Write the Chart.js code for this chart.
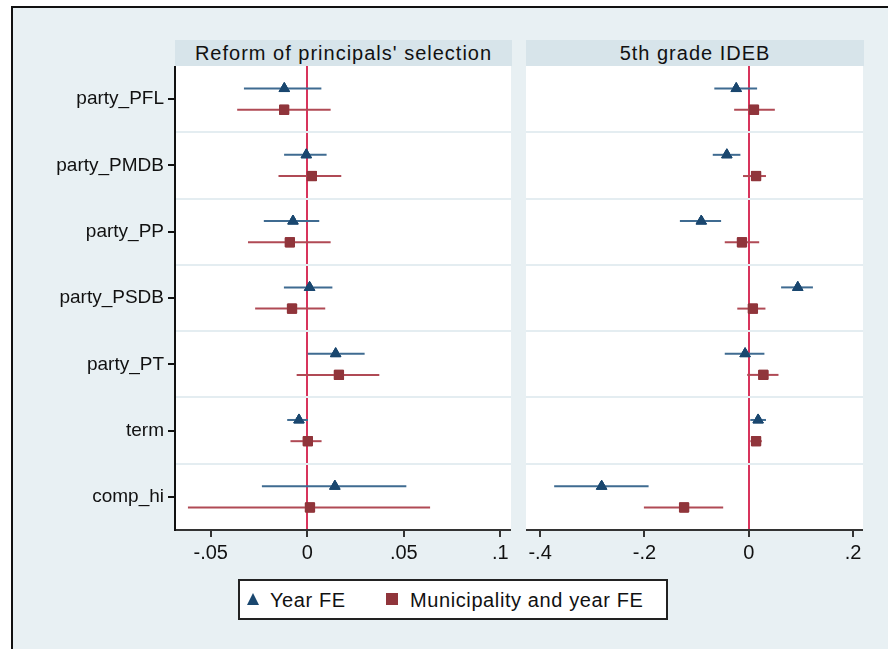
<!DOCTYPE html>
<html lang="en">
<head>
<meta charset="UTF-8">
<title>Coefficient plot</title>
<script src="https://cdn.jsdelivr.net/npm/chart.js"></script>
<style>
  body { margin: 0; background: #fff; font-family: "Liberation Sans", Arial, sans-serif; }
  #frame { position: absolute; left: 11px; top: 6px; width: 890px; height: 660px;
           background: #e8f0f3; border-left: 2px solid #111; border-top: 2px solid #111; }
  .panel-title { position: absolute; top: 40px; height: 26px; line-height: 27px; background: #d7e4ea;
                 text-align: center; font-size: 20px; letter-spacing: 1px; color: #111; }
  canvas { position: absolute; }
  #legend { position: absolute; left: 238px; top: 579px; width: 426px; height: 37px; background: #fff;
            border: 2px solid #222; font-size: 20px; letter-spacing: 0.6px; color: #111; }
  #legend span { position: absolute; top: 8px; }
  .tri { position: absolute; width: 0; height: 0; border-left: 6px solid transparent;
         border-right: 6px solid transparent; border-bottom: 12px solid #1a476f; }
  .sq { position: absolute; width: 12px; height: 12px; background: #90353b; }
</style>
</head>
<body>
<div id="frame"></div>
<div class="panel-title" style="left:175px;width:337px;">Reform of principals' selection</div>
<div class="panel-title" style="left:526px;width:338px;">5th grade IDEB</div>
<canvas id="left-chart" width="500" height="504" style="left:11px;top:66px;"></canvas>
<canvas id="right-chart" width="337" height="504" style="left:526px;top:66px;"></canvas>
<div id="legend">
  <div class="tri" style="left:7px;top:12px;"></div>
  <span style="left:30px;">Year FE</span>
  <div class="sq" style="left:146px;top:12px;"></div>
  <span style="left:170px;">Municipality and year FE</span>
</div>

<script>
const categories = ['party_PFL', 'party_PMDB', 'party_PP', 'party_PSDB', 'party_PT', 'term', 'comp_hi'];

// Reform of principals' selection
const reformYearCoef = [-0.0119, -0.0005, -0.0074, 0.0012, 0.0147, -0.0043, 0.0143];
const reformYearLo   = [-0.0328, -0.0120, -0.0225, -0.0121, 0.0003, -0.0104, -0.0235];
const reformYearHi   = [0.0073, 0.0100, 0.0062, 0.0130, 0.0297, 0.0003, 0.0513];
const reformMuniCoef = [-0.0120, 0.0024, -0.0090, -0.0079, 0.0164, 0.0003, 0.0014];
const reformMuniLo   = [-0.0363, -0.0149, -0.0307, -0.0270, -0.0055, -0.0087, -0.0618];
const reformMuniHi   = [0.0121, 0.0176, 0.0121, 0.0093, 0.0373, 0.0074, 0.0636];
const reformTicks = [-0.05, 0, 0.05, 0.1];
const reformTickLabels = ['-.05', '0', '.05', '.1'];

// 5th grade IDEB
const idebYearCoef = [-0.024, -0.042, -0.091, 0.094, -0.007, 0.018, -0.282];
const idebYearLo   = [-0.066, -0.069, -0.132, 0.062, -0.046, 0.003, -0.373];
const idebYearHi   = [0.016, -0.016, -0.053, 0.123, 0.030, 0.033, -0.192];
const idebMuniCoef = [0.010, 0.014, -0.013, 0.008, 0.028, 0.014, -0.124];
const idebMuniLo   = [-0.028, -0.011, -0.046, -0.022, -0.003, 0.003, -0.201];
const idebMuniHi   = [0.050, 0.033, 0.020, 0.032, 0.057, 0.025, -0.049];
const idebTicks = [-0.4, -0.2, 0, 0.2];
const idebTickLabels = ['-.4', '-.2', '0', '.2'];

const BLUE = '#1a476f', BLUE_LINE = '#3f6b91';
const RED = '#90353b', RED_LINE = '#b04a55';
const ZERO_LINE = '#d8345c';
const ROW_SHIFT = 0.16;

// white plot region
const plotBackground = {
  id: 'plotBackground',
  beforeDraw(chart) {
    const a = chart.chartArea, ctx = chart.ctx;
    ctx.save();
    ctx.fillStyle = '#fff';
    ctx.fillRect(a.left, a.top, a.right - a.left, a.bottom - a.top);
    ctx.restore();
  }
};

// horizontal confidence intervals
const errorBars = {
  id: 'errorBars',
  afterDatasetsDraw(chart) {
    const ctx = chart.ctx, xs = chart.scales.x, ys = chart.scales.y;
    ctx.save();
    chart.data.datasets.forEach(ds => {
      ctx.strokeStyle = ds.barColor;
      ctx.lineWidth = 2;
      ds.data.forEach((p, i) => {
        const y = ys.getPixelForValue(p.y);
        ctx.beginPath();
        ctx.moveTo(xs.getPixelForValue(ds.lo[i]), y);
        ctx.lineTo(xs.getPixelForValue(ds.hi[i]), y);
        ctx.stroke();
      });
    });
    ctx.restore();
    // markers on top of the bars
    chart.data.datasets.forEach((ds, i) => chart.getDatasetMeta(i).controller.draw());
  }
};

function series(coef, lo, hi, shift, color, barColor, style, radius, label) {
  return {
    label: label,
    data: coef.map((v, i) => ({ x: v, y: i + 0.5 + shift })),
    lo: lo, hi: hi, barColor: barColor,
    pointStyle: style, pointRadius: radius,
    backgroundColor: color, borderColor: color, borderWidth: 1
  };
}

function noPadding(axis) {
  axis.paddingTop = 0; axis.paddingBottom = 0;
  axis.paddingLeft = 0; axis.paddingRight = 0;
}

function makeChart(id, datasets, xMin, xMax, ticks, tickLabels, showLabels) {
  return new Chart(document.getElementById(id), {
    type: 'scatter',
    data: { datasets: datasets },
    plugins: [plotBackground, errorBars],
    options: {
      responsive: false,
      animation: false,
      devicePixelRatio: 1,
      layout: { padding: 0, autoPadding: false },
      plugins: { legend: { display: false }, tooltip: { enabled: false } },
      scales: {
        x: {
          min: xMin, max: xMax,
          afterBuildTicks: axis => { axis.ticks = ticks.map(v => ({ value: v })); },
          afterFit: axis => { axis.height = 40; noPadding(axis); },
          border: { display: true, color: '#333', width: 2 },
          grid: {
            color: c => (c.tick && c.tick.value === 0) ? ZERO_LINE : 'rgba(0,0,0,0)',
            lineWidth: 2,
            tickColor: '#333', tickLength: 7, tickWidth: 2
          },
          ticks: {
            color: '#111', padding: 4, maxRotation: 0, autoSkip: false,
            font: { family: '"Liberation Sans", Arial, sans-serif', size: 20 },
            callback: v => tickLabels[ticks.indexOf(v)]
          }
        },
        y: {
          min: 0, max: categories.length, reverse: true,
          afterBuildTicks: axis => {
            const t = [];
            for (let i = 0; i < categories.length; i++) {
              t.push({ value: i + 0.5 });
              if (i > 0) t.push({ value: i });
            }
            axis.ticks = t;
          },
          afterFit: axis => { axis.width = showLabels ? 164 : 0; noPadding(axis); },
          border: { display: showLabels, color: '#111', width: 2 },
          grid: {
            color: c => (c.tick && c.tick.value % 1 === 0) ? '#e4edf1' : 'rgba(0,0,0,0)',
            lineWidth: 2,
            drawTicks: showLabels,
            tickColor: c => (c.tick && c.tick.value % 1 === 0) ? 'rgba(0,0,0,0)' : '#111',
            tickLength: 7, tickWidth: 2
          },
          ticks: {
            display: showLabels, color: '#111', padding: 4, autoSkip: false,
            font: { family: '"Liberation Sans", Arial, sans-serif', size: 19 },
            callback: v => (v % 1 === 0) ? '' : categories[Math.floor(v)]
          }
        }
      }
    }
  });
}

makeChart('left-chart', [
  series(reformYearCoef, reformYearLo, reformYearHi, -ROW_SHIFT, BLUE, BLUE_LINE, 'triangle', 6, 'Year FE'),
  series(reformMuniCoef, reformMuniLo, reformMuniHi, ROW_SHIFT, RED, RED_LINE, 'rect', 6.5, 'Municipality and year FE')
], -0.0685, 0.1055, reformTicks, reformTickLabels, true);

makeChart('right-chart', [
  series(idebYearCoef, idebYearLo, idebYearHi, -ROW_SHIFT, BLUE, BLUE_LINE, 'triangle', 6, 'Year FE'),
  series(idebMuniCoef, idebMuniLo, idebMuniHi, ROW_SHIFT, RED, RED_LINE, 'rect', 6.5, 'Municipality and year FE')
], -0.427, 0.219, idebTicks, idebTickLabels, false);
</script>
</body>
</html>
